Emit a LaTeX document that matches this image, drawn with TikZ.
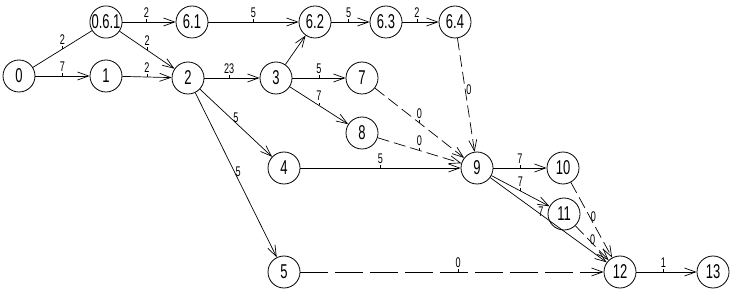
\documentclass[tikz,border=0pt]{standalone}
\usepackage{fontspec}
\setmainfont{Liberation Sans}[FakeStretch=0.65]
\usetikzlibrary{arrows.meta}
\newcommand{\tk}[1]{\shortstack{#1\\[-1pt]\rule{0.5pt}{2.5pt}}}
\tikzset{
  ev/.style={circle, draw, line width=0.8pt, minimum size=32pt, inner sep=0pt, font=\fontsize{20}{20}\selectfont},
  act/.style={line width=0.7pt, -{Straight Barb[length=11pt,width=8pt,line width=0.7pt]}},
  plain/.style={line width=0.7pt},
  dum/.style={act, dash pattern=on 12pt off 5pt},
  longdum/.style={act, dash pattern=on 28pt off 7pt},
  lab/.style={font=\fontsize{14}{14}\selectfont, inner sep=0pt, anchor=south},
  slab/.style={font=\fontsize{14}{14}\selectfont, inner sep=1pt}
}
\begin{document}
\begin{tikzpicture}[x=1pt,y=-1pt]
\useasboundingbox (0,0) rectangle (731,299);
\node[ev] (n0) at (19,76) {0};
\node[ev] (n061) at (106,22) {0.6.1};
\node[ev] (n61) at (192,22) {6.1};
\node[ev] (n62) at (315,22) {6.2};
\node[ev] (n63) at (386,22) {6.3};
\node[ev] (n64) at (455,22) {6.4};
\node[ev] (n1) at (106,76) {1};
\node[ev] (n2) at (188,78) {2};
\node[ev] (n3) at (276,78) {3};
\node[ev] (n7) at (362,78) {7};
\node[ev] (n8) at (362,133) {8};
\node[ev] (n4) at (284,168) {4};
\node[ev] (n9) at (477,168) {9};
\node[ev] (n10) at (563,168) {10};
\node[ev] (n11) at (564,214) {11};
\node[ev] (n12) at (620,272) {12};
\node[ev] (n13) at (713,272) {13};
\node[ev] (n5) at (284,272) {5};

\draw[plain] (n0) -- node[lab, pos=0.5] {\tk{2}} (n061);
\draw[act] (n0) -- node[lab] {\tk{7}} (n1);
\draw[act] (n061) -- node[lab, pos=0.45] {\tk{2}} (n61);
\draw[act] (n061) -- node[lab] {\tk{2}} (n2);
\draw[act] (n1) -- node[lab] {\tk{2}} (n2);
\draw[act] (n2) -- node[lab, pos=0.45] {\tk{23}} (n3);
\draw[act] (n61) -- node[lab, pos=0.5] {\tk{5}} (n62);
\draw[act] (n3) -- (n62);
\draw[act] (n62) -- node[lab, pos=0.45] {\tk{5}} (n63);
\draw[act] (n63) -- node[lab, pos=0.4] {\tk{2}} (n64);
\draw[dum] (n64) -- node[slab, pos=0.45, right] {0} (n9);
\draw[act] (n3) -- node[lab] {\tk{5}} (n7);
\draw[act] (n3) -- node[lab, pos=0.5] {\tk{7}} (n8);
\draw[dum] (n7) -- node[lab, pos=0.5] {\tk{0}} (n9);
\draw[dum] (n8) -- node[lab, pos=0.5] {\tk{0}} (n9);
\draw[act] (n2) -- node[lab, pos=0.5] {5} (n4);
\draw[act] (n2) -- node[slab, pos=0.48, right] {5} (n5);
\draw[act] (n4) -- node[lab, pos=0.5] {\tk{5}} (n9);
\draw[act] (n9) -- node[lab] {\tk{7}} (n10);
\draw[act] (n9) -- node[lab, pos=0.5] {\tk{7}} (n11);
\draw[act] (n9) -- node[slab, pos=0.46, above left, inner sep=0pt] {7} (n12);
\draw[dum] (n10) -- node[slab, pos=0.45, right] {0} (n12);
\draw[dum] (n11) -- node[slab, pos=0.4, right] {0} (n12);
\draw[longdum] (n5) -- node[lab, pos=0.52] {\tk{0}} (n12);
\draw[act] (n12) -- node[lab, pos=0.45] {\tk{1}} (n13);
\end{tikzpicture}
\end{document}
